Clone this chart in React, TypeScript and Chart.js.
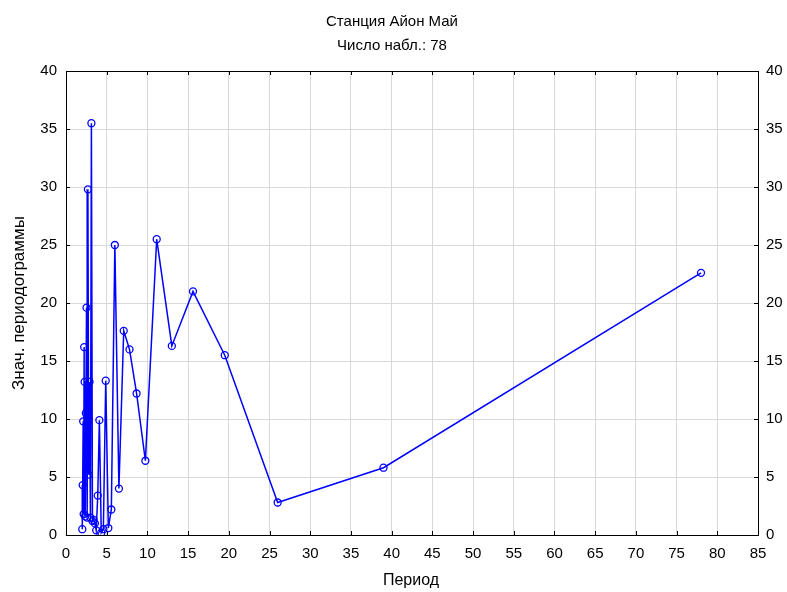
import React, { useEffect, useRef } from "react";
import { Chart, registerables } from "chart.js";

Chart.register(...registerables);

const titleLines = ["Станция Айон Май", "Число набл.: 78"];
const xTitle = "Период";
const yTitle = "Знач. периодограммы";

const periods = [
  78, 39, 26, 19.5, 15.6, 13, 11.14, 9.75, 8.67, 7.8, 7.09, 6.5, 6.0,
  5.57, 5.2, 4.88, 4.59, 4.33, 4.1, 3.9, 3.71, 3.55, 3.39, 3.25, 3.12, 3.0,
  2.89, 2.79, 2.69, 2.6, 2.52, 2.44, 2.36, 2.29, 2.23, 2.17, 2.11, 2.05, 2.0,
];
const values = [
  22.6, 5.8, 2.8, 15.5, 21.0, 16.3, 25.5, 6.4, 12.2, 16.0, 17.6, 4.0, 25.0,
  2.2, 0.6, 13.3, 0.5, 0.2, 9.9, 3.4, 0.4, 1.0, 1.3, 1.2, 35.5, 1.5,
  13.2, 5.2, 29.8, 1.5, 19.6, 10.5, 1.6, 13.2, 16.2, 1.8, 9.8, 4.3, 0.5,
];

const FONT = "'Liberation Sans', Arial, sans-serif";

const framePlugin = {
  id: "frame",
  afterDraw(chart: any) {
    const { ctx, chartArea: a, scales } = chart;
    ctx.save();
    ctx.strokeStyle = "#000";
    ctx.lineWidth = 1;
    ctx.strokeRect(Math.round(a.left) + 0.5, Math.round(a.top) + 0.5, Math.round(a.right - a.left), Math.round(a.bottom - a.top));
    const tl = 4;
    ctx.beginPath();
    scales.x.ticks.forEach((t: any) => {
      const px = Math.round(scales.x.getPixelForValue(t.value)) + 0.5;
      ctx.moveTo(px, a.bottom);
      ctx.lineTo(px, a.bottom - tl);
      ctx.moveTo(px, a.top);
      ctx.lineTo(px, a.top + tl);
    });
    scales.y.ticks.forEach((t: any) => {
      const py = Math.round(scales.y.getPixelForValue(t.value)) + 0.5;
      ctx.moveTo(a.left, py);
      ctx.lineTo(a.left + tl, py);
      ctx.moveTo(a.right, py);
      ctx.lineTo(a.right - tl, py);
    });
    ctx.stroke();

    ctx.fillStyle = "#000";
    ctx.textAlign = "center";
    ctx.textBaseline = "middle";
    ctx.font = `15px ${FONT}`;
    ctx.fillText(titleLines[0], 392, 22);
    ctx.fillText(titleLines[1], 392, 46);

    ctx.font = `16px ${FONT}`;
    ctx.fillText(xTitle, 411, 581);
    ctx.save();
    ctx.font = `17px ${FONT}`;
    ctx.translate(19, (a.top + a.bottom) / 2);
    ctx.rotate(-Math.PI / 2);
    ctx.fillText(yTitle, 0, 0);
    ctx.restore();
    ctx.restore();
  },
};

export default function App() {
  const ref = useRef<HTMLCanvasElement | null>(null);

  useEffect(() => {
    document.body.style.margin = "0";
    const canvas = ref.current;
    if (!canvas) return;
    const data = periods.map((p, i) => ({ x: p, y: values[i] }));
    const tickFont = { family: FONT, size: 15 };
    const chart = new Chart(canvas, {
      type: "line",
      data: {
        datasets: [
          {
            data,
            borderColor: "#0000ff",
            borderWidth: 1.5,
            pointRadius: 3.5,
            pointBorderWidth: 1.3,
            pointBorderColor: "#0000ff",
            pointBackgroundColor: "rgba(0,0,0,0)",
            fill: false,
            tension: 0,
          },
        ],
      },
      options: {
        responsive: false,
        animation: false,
        layout: { padding: { top: 71, left: 0, right: 0, bottom: 0 } },
        plugins: { legend: { display: false }, tooltip: { enabled: false }, title: { display: false } },
        scales: {
          x: {
            type: "linear",
            position: "bottom",
            min: 0,
            max: 85,
            ticks: { stepSize: 5, color: "#000", font: tickFont, padding: 10, maxRotation: 0 },
            grid: { color: "#d9d9d9", drawTicks: false },
            border: { display: false },
            afterFit(s: any) {
              s.height = 57;
            },
          },
          y: {
            position: "left",
            min: 0,
            max: 40,
            ticks: { stepSize: 5, color: "#000", font: tickFont, padding: 9 },
            grid: { color: "#d9d9d9", drawTicks: false },
            border: { display: false },
            afterFit(s: any) {
              s.width = 66;
            },
          },
          y2: {
            position: "right",
            min: 0,
            max: 40,
            ticks: { stepSize: 5, color: "#000", font: tickFont, padding: 8 },
            grid: { drawOnChartArea: false, drawTicks: false },
            border: { display: false },
            afterFit(s: any) {
              s.width = 29;
            },
          },
        },
      },
      plugins: [framePlugin],
    });
    return () => chart.destroy();
  }, []);

  return (
    <div style={{ position: "absolute", left: 0, top: 0, width: 787, height: 592, background: "#fff" }}>
      <canvas ref={ref} width={787} height={592} style={{ width: 787, height: 592 }} />
    </div>
  );
}
